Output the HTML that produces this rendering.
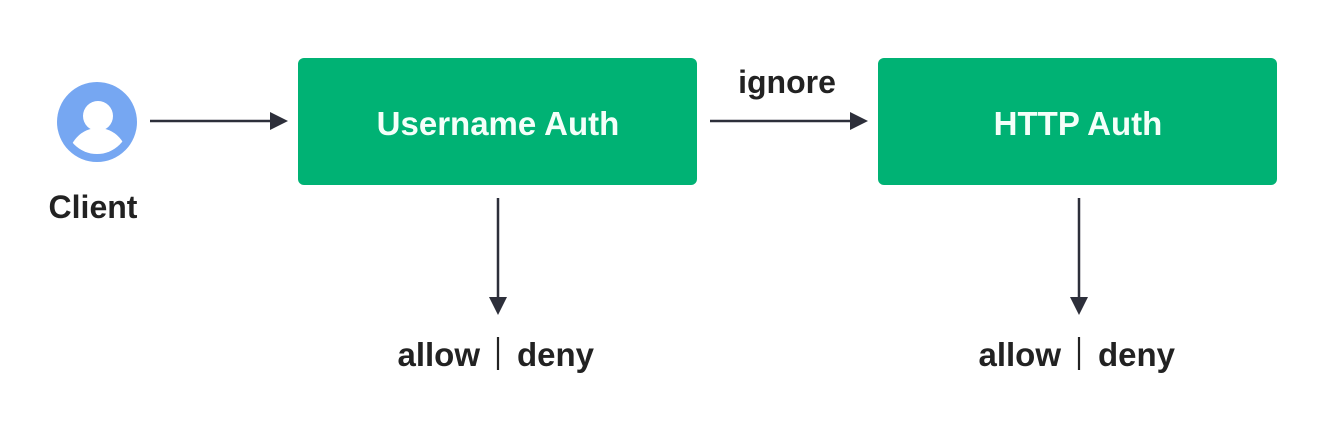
<!DOCTYPE html>
<html><head><style>body{margin:0;background:#fff}</style></head><body>
<svg width="1330" height="426" xmlns="http://www.w3.org/2000/svg" style="display:block;font-family:'Liberation Sans',sans-serif;font-weight:bold">
<defs><clipPath id="c"><circle cx="97" cy="122" r="32"/></clipPath></defs>
<circle cx="97" cy="122" r="40" fill="#76a7f2"/>
<circle cx="98" cy="116" r="15" fill="#fff"/>
<ellipse cx="98" cy="160" rx="30" ry="32" fill="#fff" clip-path="url(#c)"/>
<text x="93" y="218" font-size="32" fill="#222" text-anchor="middle">Client</text>
<rect x="298" y="58" width="399" height="127" rx="6" fill="#00b274"/>
<rect x="878" y="58" width="399" height="127" rx="6" fill="#00b274"/>
<text x="498" y="135" font-size="33" fill="#f4fff9" text-anchor="middle">Username Auth</text>
<text x="1078" y="135" font-size="33" fill="#f4fff9" text-anchor="middle">HTTP Auth</text>
<text x="787" y="93" font-size="32" fill="#222" text-anchor="middle">ignore</text>
<g stroke="#2d2f3a" stroke-width="2.5">
<line x1="150" y1="121" x2="272" y2="121"/>
<line x1="710" y1="121" x2="852" y2="121"/>
<line x1="498" y1="198" x2="498" y2="298"/>
<line x1="1079" y1="198" x2="1079" y2="298"/>
</g>
<g fill="#2d2f3a">
<polygon points="270,112 288,121 270,130"/>
<polygon points="850,112 868,121 850,130"/>
<polygon points="489,297 498,315 507,297"/>
<polygon points="1070,297 1079,315 1088,297"/>
</g>
<g font-size="33" fill="#222">
<text x="480" y="366" text-anchor="end">allow</text>
<text x="517" y="366">deny</text>
<text x="1061" y="366" text-anchor="end">allow</text>
<text x="1098" y="366">deny</text>
</g>
<g stroke="#222" stroke-width="2.2">
<line x1="498" y1="337" x2="498" y2="370"/>
<line x1="1079" y1="337" x2="1079" y2="370"/>
</g>
</svg>
</body></html>
